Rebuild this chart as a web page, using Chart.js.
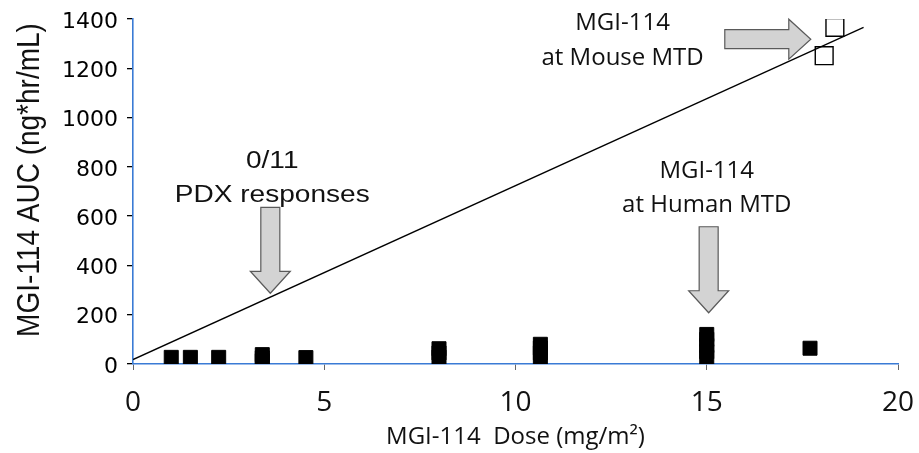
<!DOCTYPE html>
<html>
<head>
<meta charset="utf-8">
<script src="https://cdn.jsdelivr.net/npm/chart.js@4.4.1/dist/chart.umd.min.js"></script>
<style>
  html, body { margin: 0; padding: 0; background: #fff; }
  #wrap { width: 919px; height: 453px; }
</style>
</head>
<body>
<div id="wrap"><canvas id="chart" width="919" height="453"></canvas></div>
<script>
// patient doses (mg/m2) and AUC (ng*hr/mL)
const doseHuman = [1.0, 1.5, 2.24, 3.38, 3.38, 3.38, 4.52, 8.0, 8.0, 8.0, 10.65, 10.65, 10.65, 10.65, 15.0, 15.0, 15.0, 15.0, 15.0, 17.7];
const aucHuman  = [27, 27, 27, 13, 25, 38, 26, 28, 45, 62, 24, 45, 65, 80, 27, 50, 75, 100, 120, 64];

// mouse MTD points (open squares)
const doseMouse = [18.07, 18.35];
const aucMouse  = [1251, 1366];

// trend line end points
const fitDose = [0, 19.1];
const fitAuc  = [18, 1366];

const xTicks = [0, 5, 10, 15, 20];
const yTicks = [0, 200, 400, 600, 800, 1000, 1200, 1400];

const xTitle = 'MGI-114  Dose (mg/m\u00B2)';
const yTitle = 'MGI-114 AUC (ng*hr/mL)';

// callout arrows: tip in data units
const arrowTipX = [3.59, 15.05, 17.72];
const arrowTipY = [287, 208, 1318];
const arrowDir  = ['down', 'down', 'right'];

// callout text, anchored in data units (baseline of each line)
const noteText  = [['0/11', 'PDX responses'], ['MGI-114', 'at Human MTD'], ['MGI-114', 'at Mouse MTD']];
const noteX     = [3.64, 15.0, 12.8];
const noteY     = [[794, 659], [755, 617], [1355, 1213]];

const toPoints = (xs, ys) => xs.map((x, i) => ({ x, y: ys[i] }));

const AXIS_BLUE = '#3a7bd5';

const calloutPlugin = {
    id: 'callouts',
    afterDatasetsDraw(chart) {
        const ctx = chart.ctx;
        const xs = chart.scales.x, ys = chart.scales.y;

        // arrows
        arrowTipX.forEach((ax, i) => {
            const tx = xs.getPixelForValue(ax);
            const ty = ys.getPixelForValue(arrowTipY[i]);
            const len = 86, sw = 19, hw = 40, hl = 22;
            ctx.save();
            ctx.translate(tx, ty);
            ctx.rotate(arrowDir[i] === 'down' ? Math.PI / 2 : 0);
            ctx.beginPath();
            ctx.moveTo(-len, -sw / 2);
            ctx.lineTo(-hl, -sw / 2);
            ctx.lineTo(-hl, -hw / 2);
            ctx.lineTo(0, 0);
            ctx.lineTo(-hl, hw / 2);
            ctx.lineTo(-hl, sw / 2);
            ctx.lineTo(-len, sw / 2);
            ctx.closePath();
            ctx.fillStyle = '#d3d3d3';
            ctx.fill();
            ctx.strokeStyle = '#5a5a5a';
            ctx.lineWidth = 1.2;
            ctx.stroke();
            ctx.restore();
        });

        // callout text
        noteText.forEach((lines, i) => {
            const cx = xs.getPixelForValue(noteX[i]);
            lines.forEach((t, j) => {
                const by = ys.getPixelForValue(noteY[i][j]);
                ctx.save();
                ctx.fillStyle = '#111';
                ctx.textAlign = 'center';
                ctx.textBaseline = 'alphabetic';
                ctx.translate(cx, by);
                if (i === 0) {
                    ctx.font = '23px "Liberation Sans", Arial, sans-serif';
                    ctx.scale(1.22, 1);
                } else {
                    ctx.font = '24px "Open Sans", sans-serif';
                }
                ctx.fillText(t, 0, 0);
                ctx.restore();
            });
        });

        // y axis title
        const ca = chart.chartArea;
        ctx.save();
        ctx.fillStyle = '#111';
        ctx.font = '28px "Liberation Sans", Arial, sans-serif';
        ctx.textAlign = 'center';
        ctx.textBaseline = 'middle';
        ctx.translate(30, ca.top + 161);
        ctx.rotate(-Math.PI / 2);
        ctx.scale(1, 1.15);
        ctx.fillText(yTitle, 0, 0);
        ctx.restore();
    }
};

new Chart(document.getElementById('chart'), {
    type: 'scatter',
    data: {
        datasets: [
            {
                data: toPoints(doseHuman, aucHuman),
                pointStyle: 'rect',
                pointRadius: 9.9,
                pointHoverRadius: 9.9,
                backgroundColor: '#000',
                borderColor: '#000',
                borderWidth: 1
            },
            {
                data: toPoints(doseMouse, aucMouse),
                pointStyle: 'rect',
                pointRadius: 12.6,
                pointHoverRadius: 12.6,
                backgroundColor: 'rgba(255,255,255,0)',
                borderColor: '#000',
                borderWidth: 1.4
            },
            {
                type: 'line',
                data: toPoints(fitDose, fitAuc),
                borderColor: '#000',
                borderWidth: 1.3,
                pointRadius: 0,
                fill: false,
                tension: 0
            }
        ]
    },
    options: {
        responsive: false,
        animation: false,
        events: [],
        layout: { padding: { top: 19, right: 21, left: 0, bottom: 0 } },
        plugins: {
            legend: { display: false },
            tooltip: { enabled: false }
        },
        scales: {
            x: {
                type: 'linear',
                min: 0,
                max: 20,
                afterBuildTicks: scale => { scale.ticks = xTicks.map(v => ({ value: v })); },
                afterFit: scale => {
                    scale.height = 89;
                    scale.paddingLeft = 0;
                    scale.paddingRight = 0;
                },
                border: { color: AXIS_BLUE, width: 1.6 },
                grid: { drawOnChartArea: false, drawTicks: true, tickLength: 6, tickColor: '#666' },
                ticks: {
                    color: '#111',
                    padding: 16,
                    callback: v => String(v),
                    font: { family: '"Open Sans", sans-serif', size: 28 }
                },
                title: {
                    display: true,
                    text: xTitle,
                    color: '#111',
                    padding: { top: 0, bottom: 1 },
                    font: { family: '"Open Sans", sans-serif', size: 24 }
                }
            },
            y: {
                type: 'linear',
                min: 0,
                max: 1400,
                afterBuildTicks: scale => { scale.ticks = yTicks.map(v => ({ value: v })); },
                afterFit: scale => {
                    scale.width = 133;
                    scale.paddingTop = 0;
                    scale.paddingBottom = 0;
                },
                border: { color: AXIS_BLUE, width: 1.6 },
                grid: { drawOnChartArea: false, drawTicks: true, tickLength: 6, tickColor: '#000', lineWidth: 1.3 },
                ticks: {
                    color: '#000',
                    padding: 9,
                    labelOffset: 3,
                    callback: v => String(v),
                    font: { family: '"DejaVu Sans", sans-serif', size: 22 }
                }
            }
        }
    },
    plugins: [calloutPlugin]
});
</script>
</body>
</html>
